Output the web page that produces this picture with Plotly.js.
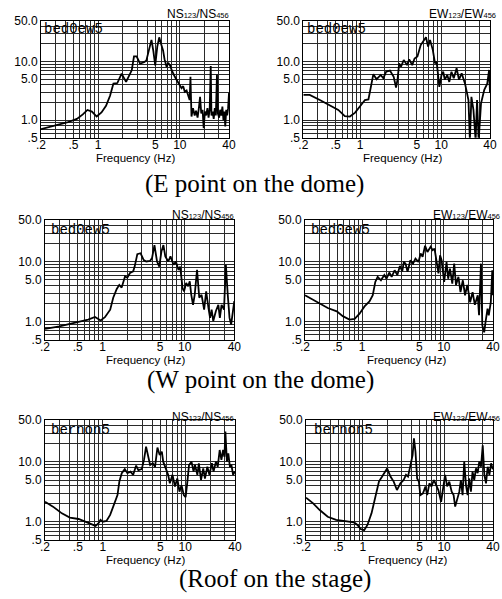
<!DOCTYPE html>
<html><head><meta charset="utf-8">
<script src="https://cdn.plot.ly/plotly-3.0.1.min.js"></script>
<style>html,body{margin:0;padding:0;background:#fff;}#chart{width:502px;height:599px;}</style>
</head><body><div id="chart"></div>
<script>
// ---- tick / grid definitions ----
const xTickVals = [0.2,0.5,1,5,10,40];
const xTickText = ['.2','.5','1','5','10','40'];
const xMinorVals = [0.3,0.4,0.6,0.7,0.8,0.9,2,3,4,6,7,8,9,20,30];
const yTickVals = [0.5,1,5,10,50];
const yTickText = ['.5','1.0','5.0','10.0','50.0'];
const yMinorVals = [0.6,0.7,0.8,0.9,2,3,4,6,7,8,9,20,30,40];

// ---- captions / labels ----
const captions = ['(E point on the dome)','(W point on the dome)','(Roof on the stage)'];
const xTitle = 'Frequency (Hz)';
const codeLabels = ['bed0ew5','bed0ew5','bed0ew5','bed0ew5','bernon5','bernon5'];
const SUB = s => '<span style="font-size:7.5px">' + s + '</span>';
const ratioLabels = [
  'NS' + SUB('123') + '/NS' + SUB('456'), 'EW' + SUB('123') + '/EW' + SUB('456'),
  'NS' + SUB('123') + '/NS' + SUB('456'), 'EW' + SUB('123') + '/EW' + SUB('456'),
  'NS' + SUB('123') + '/NS' + SUB('456'), 'EW' + SUB('123') + '/EW' + SUB('456')];

// ---- series: E point NS ----
const eNsF = [0.2,0.3,0.416,0.55,0.65,0.74,0.84,0.96,1.1,1.25,1.4,1.54,1.72,1.94,2.2,2.58,2.75,2.96,3.26,3.7,3.9,4.2,4.5,4.75,5.0,5.3,5.6,5.9,6.24,6.5,6.9,7.2,7.6,8.0,8.3,8.7,9.2,9.8,10.5,11.0,11.5,12.1,12.7,13.2,13.5,13.9,14.5,15.2,15.8,16.5,17.2,17.7,18.3,19.0,19.6,20.3,21.0,21.8,22.5,23.2,23.9,24.4,25.2,26.0,26.8,27.6,28.5,29.2,30.3,31.2,32.2,33.2,34.2,35.2,36.0,37.0,38.0,39.0,40];
const eNsV = [0.70,0.80,0.91,1.05,1.25,1.49,1.40,1.15,1.35,1.75,2.6,4.2,4.3,6.2,4.5,7.1,12.3,12.3,9.2,9.9,10.5,16,23.5,15,8.6,18,26,20,15.5,11,8.1,9.5,8.6,7.0,6.2,5.5,4.8,4.2,3.5,3.8,3.05,3.2,2.5,2.2,5.5,1.15,1.6,1.2,1.45,1.1,1.7,2.5,1.3,1.5,0.73,1.4,1.2,1.6,1.1,1.5,8.4,1.2,1.4,1.05,1.6,1.2,6.0,1.3,1.1,1.5,1.2,1.7,1.0,1.4,0.78,1.5,1.2,1.6,2.9];

// ---- series: E point EW ----
const eEwF = [0.2,0.24,0.32,0.43,0.54,0.65,0.75,0.87,1.0,1.15,1.27,1.35,1.46,1.6,1.8,1.94,2.1,2.34,2.6,2.78,2.9,3.04,3.2,3.46,3.8,4.04,4.4,4.7,5.1,5.6,6.0,6.5,6.9,7.3,7.9,8.4,8.8,9.5,10.1,10.6,11.1,11.9,12.6,13.4,14.3,15.5,16.6,17.9,19.7,21.7,22.6,23.6,25,26.6,27.7,29,31,34,37,39,40];
const eEwV = [2.7,2.7,2.2,1.74,1.49,1.17,1.15,1.34,1.7,2.2,2.25,3.7,6.1,5.0,5.9,5.2,6.7,7.0,5.5,3.6,4.9,9.3,8.2,10.6,8.7,10.9,8.7,11.3,12.2,19.2,22,26,18,23.5,15.7,9.3,10,3.7,5.9,6.7,4.9,5.9,4.5,6.7,5.2,7.7,4.9,6.3,4.2,2.2,0.45,2.5,1.5,0.45,2.2,0.45,1.93,3.3,4.2,7.2,2.9];

// ---- series: W point NS ----
const wNsF = [0.2,0.3,0.48,0.67,0.81,0.95,1.07,1.24,1.35,1.49,1.6,1.71,1.88,2.0,2.16,2.36,2.46,2.65,2.9,3.17,3.4,3.78,4.0,4.28,4.6,4.9,5.2,5.5,5.8,6.3,6.7,7.3,7.8,8.4,8.8,9.4,9.8,10.4,11.0,11.5,12.0,12.6,13.2,14.1,15.0,16.0,17.2,18.2,19.4,20.3,21.2,22.2,23.9,25.6,26.7,28.0,30,31.6,33.3,35,36.6,38.3,40];
const wNsV = [0.75,0.83,0.97,1.08,1.19,1.04,1.18,1.58,2.5,3.5,4.1,3.7,5.7,5.4,6.5,6.9,8.3,13.4,13.9,10.7,10.1,10.3,11.5,19,10.1,8.3,14.8,19,12.3,10.1,12.3,8.9,10.1,7.3,8.3,3.6,3.2,4.4,3.9,4.7,2.8,1.9,2.8,7.3,2.5,2.8,1.58,3.2,1.69,1.15,1.58,1.02,1.5,1.9,1.15,1.9,1.58,8.9,2.8,1.15,0.89,1.3,2.2];

// ---- series: W point EW ----
const wEwF = [0.2,0.28,0.38,0.49,0.58,0.70,0.81,0.93,1.07,1.23,1.35,1.45,1.55,1.7,1.87,1.99,2.15,2.3,2.5,2.7,2.9,3.1,3.24,3.4,3.6,3.9,4.2,4.5,4.9,5.2,5.5,5.9,6.3,6.9,7.3,7.7,8.2,8.6,9.0,9.4,10.1,10.8,11.3,11.9,12.7,13.4,14.1,15.1,16.0,17.1,18.2,19.4,21.0,22.5,24.0,26,27,28.5,29.6,31.2,32.4,34.3,35.5,37.6,39.2,40];
const wEwV = [2.75,2.1,1.68,1.48,1.23,1.08,1.11,1.35,1.79,2.17,2.75,4.6,5.6,4.9,6.0,5.2,6.6,5.6,7.2,6.0,8.5,6.9,9.9,9.3,6.8,10.6,9.3,11.3,9.9,13.7,12.1,18.5,14.6,17.9,15.6,16.6,9.9,6.4,12.8,10.6,4.6,9.9,5.2,7.7,4.3,9.3,4.1,5.6,3.1,4.9,2.75,4.1,2.1,3.1,1.9,2.75,1.27,9.3,0.86,0.66,0.98,1.64,1.27,2.1,7.2,2.75];

// ---- series: Roof NS ----
const rNsF = [0.2,0.25,0.32,0.40,0.51,0.61,0.74,0.82,0.89,0.94,1.0,1.11,1.23,1.37,1.51,1.59,1.7,1.85,1.99,2.17,2.34,2.54,2.7,2.97,3.16,3.35,3.6,3.75,4.04,4.3,4.6,4.9,5.2,5.4,5.8,6.2,6.5,7.0,7.5,8.0,8.5,9.0,9.6,10.1,10.6,11.1,11.9,12.6,13.1,14.0,14.6,15.5,16.5,17.3,18.5,19.6,21.0,22.0,23.5,24.7,26.1,27.4,28.7,29.8,30.6,31.9,33.2,34.7,36.2,37.9,40];
const rNsV = [2.17,1.8,1.39,1.18,1.12,1.01,0.91,0.86,0.95,1.08,1.01,1.04,1.31,1.9,2.8,4.7,6.5,7.6,6.5,6.9,6.1,8.7,7.3,7.6,10.8,18,11.4,8.9,9.5,8.3,17.4,13.1,14.8,10.1,7.8,6.1,4.4,6.1,3.9,5.3,3.2,4.1,2.8,2.6,4.7,8.9,10.1,6.9,8.9,6.1,9.5,5.0,7.8,5.3,8.3,6.1,9.5,6.9,10.1,8.3,15.8,10.8,15.8,12.2,32,10.1,13.9,8.3,8.9,6.1,6.9];

// ---- series: Roof EW ----
const rEwF = [0.2,0.245,0.295,0.37,0.47,0.62,0.78,0.86,0.94,1.04,1.14,1.28,1.44,1.58,1.73,1.85,1.99,2.19,2.4,2.63,2.9,3.18,3.4,3.6,3.9,4.1,4.26,4.45,4.66,4.9,5.1,5.5,5.9,6.2,6.6,7.0,7.5,8.0,8.5,9.2,9.6,10.3,10.9,11.6,12.4,13.1,13.7,14.5,15.4,16.1,16.9,17.7,18.6,19.5,20.4,21.4,22.4,23.5,24.7,25.9,27.1,28.5,29.9,31.3,32.8,34.4,36.1,37.9,39.7,40];
const rEwV = [2.54,2.04,1.58,1.22,1.08,1.01,0.98,0.89,0.76,0.73,0.89,1.39,2.6,4.7,5.7,6.7,7.8,5.7,4.7,3.4,4.4,5.0,6.1,5.7,8.9,13,24.7,14.8,5.3,4.7,2.8,3.0,3.9,2.8,4.4,3.9,5.0,4.1,3.4,2.17,3.2,6.1,3.9,4.7,3.2,2.8,1.8,2.5,3.2,5.0,2.8,10.1,4.1,2.8,5.3,3.2,6.9,5.0,7.8,6.5,10.1,8.3,19,6.1,4.4,8.3,6.1,9.5,7.6,7.8];

const seriesF = [eNsF,eEwF,wNsF,wEwF,rNsF,rEwF];
const seriesV = [eNsV,eEwV,wNsV,wEwV,rNsV,rEwV];

// ---- layout geometry (pixels) ----
const W = 502, H = 599;
const boxes = [
  [41,229,20.7,137.7],[303.3,490,20.7,137.7],
  [45,234.3,220,339.5],[305,493,220,339.5],
  [45,235,420,540],[306,493,420,540]
];
const tickSize = [12,12,12,12,12,12];
const titlePos = [[135,157.5,11.5],[402,157.5,11.5],[145,359.5,11.5],[406,359.5,11.5],[145.5,560,11.5],[407,560,11.5]];
const codePos = [[42,29],[305,29],[49,230],[309,230],[49,430],[311.7,430]];
const ratioPos = [[231,14],[498,14],[236,215],[502,215],[236,417],[502,417]];
const capPos = [[143,184],[145,380],[177,579]];

const px = v => v / W;
const py = v => 1 - v / H;

const traces = [];
const layout = {
  width: W, height: H,
  margin: {l:0,r:0,t:0,b:0},
  paper_bgcolor: '#fff', plot_bgcolor: '#fff',
  showlegend: false,
  font: {family: '"Liberation Sans", Arial, sans-serif', color: '#000', size: 12},
  annotations: []
};
const gridCol = '#2a2a2a';

for (let i = 0; i < 6; i++) {
  const s = i === 0 ? '' : String(i + 1);
  traces.push({
    x: seriesF[i], y: seriesV[i], type: 'scatter', mode: 'lines',
    xaxis: 'x' + s, yaxis: 'y' + s,
    line: {color: '#000', width: 1.8}, hoverinfo: 'skip'
  });
  const b = boxes[i];
  layout['xaxis' + s] = {
    type: 'log', domain: [px(b[0]), px(b[1])], anchor: 'y' + s,
    range: [Math.log10(0.2), Math.log10(40)],
    tickmode: 'array', tickvals: xTickVals, ticktext: xTickText,
    showgrid: true, gridcolor: gridCol, gridwidth: 1,
    minor: {tickmode: 'array', tickvals: xMinorVals, showgrid: true, gridcolor: gridCol, gridwidth: 1, ticks: ''},
    showline: true, linecolor: '#000', linewidth: 1, mirror: true,
    ticks: '', zeroline: false, tickfont: {size: tickSize[i]},
    ticklabeloverflow: 'allow', ticklabelstandoff: -4
  };
  layout['yaxis' + s] = {
    type: 'log', domain: [py(b[3]), py(b[2])], anchor: 'x' + s,
    range: [Math.log10(0.5), Math.log10(50)],
    tickmode: 'array', tickvals: yTickVals, ticktext: yTickText,
    showgrid: true, gridcolor: gridCol, gridwidth: 1,
    minor: {tickmode: 'array', tickvals: yMinorVals, showgrid: true, gridcolor: gridCol, gridwidth: 1, ticks: ''},
    showline: true, linecolor: '#000', linewidth: 1, mirror: true,
    ticks: '', zeroline: false, tickfont: {size: tickSize[i]},
    ticklabeloverflow: 'allow'
  };
  layout.annotations.push({
    text: xTitle, xref: 'paper', yref: 'paper',
    x: px(titlePos[i][0]), y: py(titlePos[i][1]), xanchor: 'center', yanchor: 'middle',
    showarrow: false, font: {size: titlePos[i][2], color: '#000'}
  });
  layout.annotations.push({
    text: codeLabels[i], xref: 'paper', yref: 'paper',
    x: px(codePos[i][0]), y: py(codePos[i][1]), xanchor: 'left', yanchor: 'middle',
    showarrow: false, font: {family: '"Courier New", "Liberation Mono", monospace', size: 14, color: '#000000'}
  });
  layout.annotations.push({
    text: ratioLabels[i], xref: 'paper', yref: 'paper',
    x: px(ratioPos[i][0]), y: py(ratioPos[i][1]), xanchor: 'right', yanchor: 'middle',
    showarrow: false, font: {size: 12, color: '#000'}
  });
}
for (let k = 0; k < 3; k++) {
  layout.annotations.push({
    text: captions[k], xref: 'paper', yref: 'paper',
    x: px(capPos[k][0]), y: py(capPos[k][1]), xanchor: 'left', yanchor: 'middle',
    showarrow: false, font: {family: '"Liberation Serif", "Times New Roman", serif', size: 25, color: '#000'}
  });
}

Plotly.newPlot('chart', traces, layout, {staticPlot: true, displayModeBar: false});
</script></body></html>
